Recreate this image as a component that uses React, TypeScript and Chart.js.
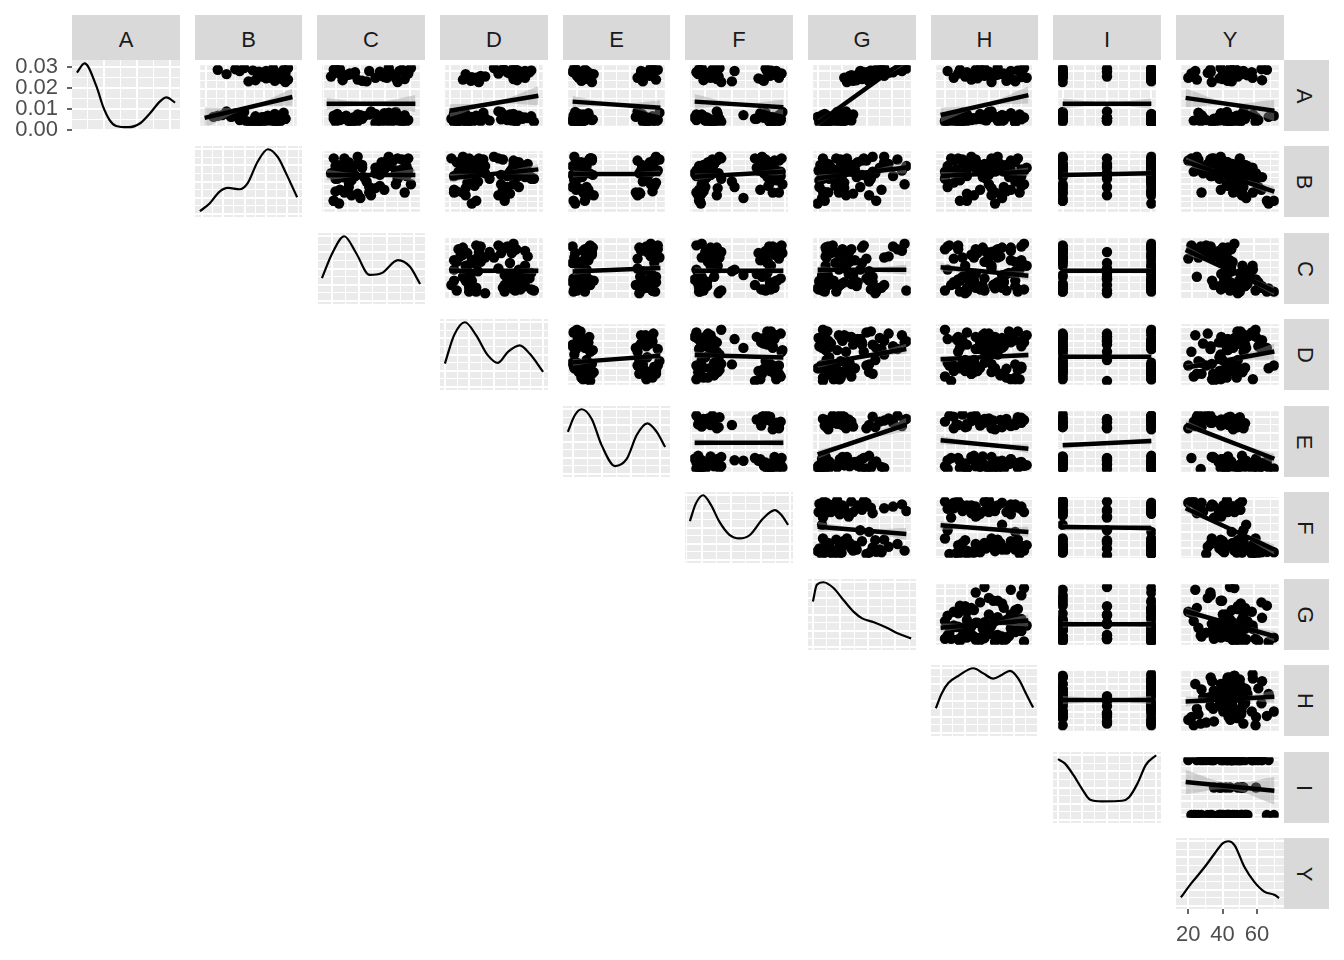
import { useEffect, useRef } from "react";
import { Chart, registerables } from "chart.js";

Chart.register(...registerables);

const FONT = "'Liberation Sans', Arial, Helvetica, sans-serif";
const VAR_NAMES = ["A", "B", "C", "D", "E", "F", "G", "H", "I", "Y"];

// ---- observations (one value per observation, 80 observations) ----
const obsA = [10, 14, 8, 18, 12, 6, 22, 15, 9, 20, 11,
  13, 7, 16, 24, 10, 14, 5, 19, 12, 9, 17,
  11, 15, 6, 21, 13, 8, 18, 10, 14, 5, 23, 12, 16,
  12, 9, 17, 6, 14, 20, 10, 13, 7, 19, 11, 15, 8,
  82, 90, 76, 88, 94, 79,
  85, 92, 73, 87, 81, 95,
  84, 78, 91, 86, 74, 89,
  83, 77, 93, 80, 88, 72, 86, 90, 82, 75, 95, 85, 79, 92];
const obsB = [0.72, 0.65, 0.48, 0.30, 0.75, 0.60, 0.90, 0.30, 0.68, 0.80, 0.42,
  0.78, 0.62, 0.32, 0.25, 0.70, 0.58, 0.82, 0.28, 0.92, 0.55, 0.72,
  0.75, 0.68, 0.52, 0.35, 0.60, 0.78, 0.20, 0.88, 0.70, 0.65, 0.45, 0.92, 0.58,
  0.80, 0.72, 0.15, 0.85, 0.65, 0.38, 0.40, 0.78, 0.55, 0.30, 0.62, 0.10, 0.82,
  0.85, 0.70, 0.95, 0.60, 0.78, 0.88,
  0.75, 0.90, 0.50, 0.82, 0.65, 0.45,
  0.85, 0.70, 0.55, 0.92, 0.80, 0.62,
  0.78, 0.88, 0.35, 0.72, 0.60, 0.92, 0.68, 0.40, 0.82, 0.58, 0.95, 0.25, 0.75, 0.15];
const obsC = [0.15, 0.78, 0.25, 0.88, 0.40, 0.28, 0.70, 0.20, 0.85, 0.12, 0.60,
  0.30, 0.85, 0.10, 0.50, 0.92, 0.18, 0.72, 0.35, 0.08, 0.80, 0.22,
  0.15, 0.82, 0.28, 0.65, 0.32, 0.90, 0.38, 0.75, 0.12, 0.55, 0.78, 0.20, 0.42,
  0.18, 0.85, 0.08, 0.62, 0.30, 0.55, 0.25, 0.70, 0.10, 0.48, 0.88, 0.14, 0.35,
  0.20, 0.82, 0.35, 0.90, 0.10, 0.68,
  0.15, 0.85, 0.45, 0.72, 0.05, 0.95,
  0.25, 0.78, 0.12, 0.92, 0.40, 0.60,
  0.22, 0.88, 0.15, 0.65, 0.32, 0.80, 0.26, 0.48, 0.62, 0.18, 0.70, 0.28, 0.55, 0.08];
const obsD = [0.22, 0.70, 0.20, 0.15, 0.82, 0.05, 0.38, 0.62, 0.10, 0.72, 0.28,
  0.18, 0.75, 0.08, 0.55, 0.30, 0.85, 0.12, 0.68, 0.22, 0.45, 0.78,
  0.30, 0.72, 0.25, 0.05, 0.88, 0.35, 0.62, 0.15, 0.80, 0.20, 0.58, 0.02, 0.92,
  0.26, 0.70, 0.30, 0.08, 0.82, 0.18, 0.65, 0.40, 0.95, 0.05, 0.58, 0.25, 0.75,
  0.75, 0.85, 0.15, 0.65, 0.74, 0.30,
  0.80, 0.60, 0.32, 0.88, 0.40, 0.72,
  0.78, 0.20, 0.92, 0.55, 0.24, 0.68,
  0.82, 0.72, 0.60, 0.25, 0.90, 0.33, 0.68, 0.78, 0.35, 0.76, 0.50, 0.18, 0.85, 0.62];
const obsE = [0.82, 0.88, 0.95, 0.76, 0.90, 0.84, 0.99, 0.72, 0.86, 0.79, 0.93,
  0.87, 0.80, 0.91, 0.74, 0.97, 0.83, 0.89, 0.77, 0.94, 0.85, 0.81,
  0.05, 0.12, 0.02, 0.18, 0.08, 0.00, 0.15, 0.22, 0.06, 0.10, 0.03, 0.20, 0.09,
  0.04, 0.14, 0.01, 0.10, 0.19, 0.07, 0.00, 0.16, 0.05, 0.12, 0.23, 0.03, 0.09,
  0.88, 0.78, 0.95, 0.84, 0.91, 0.74,
  0.86, 0.97, 0.80, 0.92, 0.76, 0.89,
  0.06, 0.15, 0.02, 0.20, 0.10, 0.00,
  0.08, 0.18, 0.04, 0.13, 0.01, 0.22, 0.09, 0.16, 0.05, 0.11, 0.02, 0.24, 0.07, 0.14];
const obsF = [0.90, 0.78, 0.85, 0.95, 0.70, 0.92, 0.80, 0.88, 0.97, 0.75, 0.83,
  0.05, 0.18, 0.10, 0.25, 0.02, 0.14, 0.22, 0.08, 0.28, 0.12, 0.04,
  0.88, 0.80, 0.93, 0.74, 0.97, 0.84, 0.55, 0.90, 0.78, 0.86, 0.99, 0.68, 0.82,
  0.10, 0.20, 0.05, 0.15, 0.00, 0.26, 0.12, 0.08, 0.30, 0.02, 0.18, 0.07, 0.22,
  0.85, 0.92, 0.76, 0.88, 0.80, 0.95,
  0.10, 0.20, 0.42, 0.15, 0.27, 0.08,
  0.90, 0.72, 0.86, 0.98, 0.78, 0.82,
  0.12, 0.25, 0.05, 0.17, 0.02, 0.30, 0.14, 0.45, 0.22, 0.10, 0.28, 0.04, 0.18, 0.06];
const obsG = [0.22, 0.15, 0.30, 0.10, 0.35, 0.18, 0.26, 0.12, 0.38, 0.08, 0.20,
  0.14, 0.28, 0.06, 0.32, 0.17, 0.24, 0.09, 0.40, 0.21, 0.13, 0.27,
  0.04, 0.10, 0.02, 0.25, 0.07, 0.12, 0.05, 0.28, 0.01, 0.09, 0.22, 0.06, 0.11,
  0.03, 0.13, 0.08, 0.26, 0.05, 0.30, 0.02, 0.10, 0.06, 0.24, 0.09, 0.00, 0.12,
  0.75, 0.95, 0.62, 0.85, 1.00, 0.55,
  0.70, 0.90, 0.58, 0.80, 0.65, 0.98,
  0.45, 0.35, 0.60, 0.52, 0.40, 0.50,
  0.38, 0.50, 0.72, 0.42, 0.55, 0.33, 0.62, 0.48, 0.36, 0.44, 0.75, 0.58, 0.30, 0.66];
const obsH = [0.30, 0.55, 0.15, 0.70, 0.40, 0.85, 0.25, 0.62, 0.05, 0.45, 0.92,
  0.35, 0.20, 0.75, 0.58, 0.10, 0.48, 0.68, 0.30, 0.88, 0.52, 0.18,
  0.40, 0.62, 0.22, 0.80, 0.50, 0.08, 0.70, 0.35, 0.95, 0.28, 0.55, 0.12, 0.78,
  0.45, 0.65, 0.30, 0.85, 0.20, 0.58, 0.72, 0.38, 0.05, 0.90, 0.48, 0.62, 0.25,
  0.60, 0.80, 0.35, 0.92, 0.50, 0.15,
  0.70, 0.40, 0.85, 0.55, 0.28, 0.95,
  0.65, 0.42, 0.88, 0.20, 0.75, 0.55,
  0.62, 0.80, 0.45, 0.92, 0.30, 0.58, 0.72, 0.08, 0.50, 0.85, 0.65, 0.38, 0.98, 0.22];
const obsI = [0, 1, 1, 0, 0.5, 1, 0, 1, 0, 1, 0,
  1, 0, 1, 0.5, 1, 0, 1, 0, 1, 0.5, 0,
  1, 0, 1, 0, 0.5, 1, 0, 1, 0, 1, 0, 0.5, 1,
  0, 1, 0, 1, 0.5, 0, 1, 0, 1, 1, 0, 1, 0.5,
  1, 0, 1, 0, 0.5, 1,
  0, 1, 1, 0, 0.5, 1,
  1, 0, 1, 0, 1, 0.5,
  0, 1, 1, 0, 1, 0, 1, 0.5, 0, 1, 0, 1, 1, 0];
const obsY = [40, 27, 44.5, 26, 38.7, 32.8, 24, 46.3, 21, 38.5, 42.8,
  40.6, 43.4, 48.6, 53, 29, 54, 33.9, 51.7, 50.6, 37.5, 48.7,
  45.9, 37.1, 50.1, 38.4, 52, 25.5, 54.7, 33.5, 47.2, 45.1, 42.3, 34, 51,
  54, 45.1, 72.5, 42.2, 61, 52.3, 62.5, 39.4, 60.7, 59, 43, 69.1, 51.4,
  39.2, 22, 23, 31.9, 44.3, 17.5,
  51.2, 31.7, 45.4, 30, 49.3, 47.1,
  42.9, 37.6, 49.1, 19.5, 42.8, 41.7,
  55.5, 39.7, 64.5, 44.1, 58.3, 32.6, 54, 52.9, 46, 64.9, 38.3, 52, 58.8, 68];

// ---- variable ranges / grid ----
const dataMin = [5, 0, 0, 0, 0, 0, 0, 0, 0, 15.8];
const dataMax = [95, 1, 1, 1, 1, 1, 1, 1, 1, 72.8];
const gridStart = [0, 0.02, 0.1, 0, 0.05, 0.12, 0, 0.05, 0, 20];
const gridStep = [30, 0.22, 0.28, 0.25, 0.3, 0.3, 0.28, 0.25, 0.25, 20];

// ---- axis ticks ----
const densATicks = [0, 0.01, 0.02, 0.03];
const densATickLabels = ["0.00", "0.01", "0.02", "0.03"];
const densARange = [-0.0007, 0.0331];
const yVarTicks = [20, 40, 60];
const yVarTickLabels = ["20", "40", "60"];

// ---- diagonal densities ----
const densAx = [5, 12, 23, 29, 35, 41, 52, 63, 72, 81, 87, 95];
const densAy = [0.0271, 0.0315, 0.0204, 0.0109, 0.0045, 0.0017, 0.0011, 0.0030, 0.0077, 0.0133, 0.0153, 0.0128];
const densBx = [0, 0.10, 0.20, 0.29, 0.41, 0.49, 0.595, 0.70, 0.80, 0.885, 1];
const densBy = [0.04, 0.16, 0.34, 0.40, 0.38, 0.47, 0.81, 1.0, 0.88, 0.63, 0.255];
const densCx = [0, 0.107, 0.227, 0.348, 0.485, 0.605, 0.775, 0.895, 1];
const densCy = [0.35, 0.74, 1.0, 0.74, 0.40, 0.425, 0.63, 0.53, 0.26];
const densDx = [0, 0.094, 0.204, 0.317, 0.436, 0.54, 0.642, 0.762, 0.865, 1];
const densDy = [0.36, 0.80, 1.0, 0.80, 0.49, 0.37, 0.54, 0.64, 0.51, 0.23];
const densEx = [0, 0.073, 0.142, 0.245, 0.348, 0.485, 0.605, 0.708, 0.817, 0.913, 1];
const densEy = [0.65, 0.91, 1.0, 0.85, 0.44, 0.12, 0.23, 0.60, 0.78, 0.65, 0.415];
const densFx = [0, 0.06, 0.135, 0.214, 0.30, 0.40, 0.505, 0.608, 0.745, 0.865, 0.934, 1];
const densFy = [0.60, 0.87, 1.0, 0.85, 0.59, 0.39, 0.33, 0.38, 0.64, 0.77, 0.69, 0.54];
const densGx = [0, 0.04, 0.107, 0.21, 0.313, 0.416, 0.502, 0.621, 0.759, 0.862, 1];
const densGy = [0.70, 0.96, 1.0, 0.91, 0.72, 0.54, 0.44, 0.38, 0.29, 0.21, 0.13];
const densHx = [0, 0.06, 0.128, 0.23, 0.385, 0.488, 0.59, 0.676, 0.762, 0.848, 0.934, 1];
const densHy = [0.38, 0.61, 0.77, 0.88, 1.0, 0.92, 0.84, 0.895, 0.96, 0.84, 0.585, 0.39];
const densIx = [0, 0.073, 0.159, 0.245, 0.33, 0.45, 0.656, 0.725, 0.81, 0.896, 1];
const densIy = [0.94, 0.87, 0.69, 0.48, 0.31, 0.285, 0.295, 0.35, 0.56, 0.85, 1.0];
const densYx = [15.8, 21.9, 29.6, 35.4, 40.2, 43.4, 46.9, 52.7, 58.4, 64.2, 70, 72.8];
const densYy = [0.13, 0.35, 0.6, 0.81, 0.97, 1.0, 0.94, 0.6, 0.37, 0.22, 0.17, 0.12];

// ---- fitted lines per row: [y at x-min, y at x-max, band half-width left, mid, right] ----
const fitRowA = [[13.5, 47.5, 16.7, 2.1, 13.9], [36.7, 36.7, 9.8, 2.1, 13.9], [25.2, 49.7, 10.5, 2.1, 15.3],
  [40, 29.8, 9.1, 2.1, 12.5], [40, 30.8, 12.1, 2.1, 12.1], [4.7, 109, 5.6, 1.4, 7],
  [18.2, 50.7, 11.8, 2.1, 13.9], [36.7, 36.7, 8.4, 2.1, 8.4], [46.1, 25.2, 15.3, 2.8, 17.4]];
const fitRowB = [[0.616, 0.616, 0.093, 0.023, 0.109], [0.559, 0.72, 0.078, 0.023, 0.093], [0.636, 0.636, 0.062, 0.023, 0.062],
  [0.585, 0.678, 0.062, 0.023, 0.062], [0.559, 0.755, 0.062, 0.023, 0.109], [0.6, 0.678, 0.078, 0.023, 0.078],
  [0.616, 0.652, 0.047, 0.023, 0.047], [0.86, 0.317, 0.078, 0.023, 0.093]];
const fitRowC = [[0.461, 0.461, 0.062, 0.023, 0.062], [0.446, 0.508, 0.062, 0.023, 0.062], [0.461, 0.461, 0.062, 0.023, 0.062],
  [0.477, 0.477, 0.062, 0.023, 0.093], [0.523, 0.368, 0.078, 0.023, 0.078], [0.461, 0.461, 0.047, 0.023, 0.047],
  [0.838, 0.089, 0.078, 0.023, 0.078]];
const fitRowD = [[0.357, 0.477, 0.062, 0.023, 0.062], [0.492, 0.446, 0.062, 0.023, 0.062], [0.322, 0.601, 0.062, 0.023, 0.093],
  [0.415, 0.492, 0.062, 0.023, 0.062], [0.461, 0.461, 0.047, 0.023, 0.047], [0.26, 0.554, 0.062, 0.03, 0.147]];
const fitRowE = [[0.477, 0.477, 0.062, 0.023, 0.062], [0.264, 0.807, 0.078, 0.023, 0.124], [0.523, 0.368, 0.078, 0.023, 0.078],
  [0.43, 0.508, 0.062, 0.023, 0.062], [0.807, 0.187, 0.078, 0.023, 0.093]];
const fitRowF = [[0.512, 0.384, 0.093, 0.03, 0.109], [0.539, 0.42, 0.078, 0.023, 0.093], [0.508, 0.492, 0.062, 0.023, 0.062],
  [0.849, 0.1, 0.078, 0.023, 0.093]];
const fitRowG = [[0.26, 0.389, 0.078, 0.023, 0.109], [0.322, 0.322, 0.062, 0.023, 0.062], [0.559, 0.105, 0.078, 0.023, 0.093]];
const fitRowH = [[0.508, 0.508, 0.078, 0.023, 0.078], [0.481, 0.57, 0.093, 0.023, 0.109]];
const fitRowI = [[0.599, 0.442, 0.22, 0.063, 0.25]];

const OBS = [obsA, obsB, obsC, obsD, obsE, obsF, obsG, obsH, obsI, obsY];
const DENS_X = [densAx, densBx, densCx, densDx, densEx, densFx, densGx, densHx, densIx, densYx];
const DENS_Y = [densAy, densBy, densCy, densDy, densEy, densFy, densGy, densHy, densIy, densYy];
const FITS = [fitRowA, fitRowB, fitRowC, fitRowD, fitRowE, fitRowF, fitRowG, fitRowH, fitRowI];

// ---- layout ----
const COL_X0 = 72, COL_STEP = 122.67, PANEL_W = 107.7;
const ROW_Y0 = 60, ROW_STEP = 86.44, PANEL_H = 71;
const colL = (c: number) => Math.round(COL_X0 + c * COL_STEP);
const colR = (c: number) => Math.round(COL_X0 + c * COL_STEP + PANEL_W);
const rowT = (r: number) => Math.round(ROW_Y0 + r * ROW_STEP);

type TickItem = { value: number; major: boolean };

function axisRange(v: number): [number, number] {
  const span = dataMax[v] - dataMin[v];
  return [dataMin[v] - 0.05 * span, dataMax[v] + 0.05 * span];
}

function gridTicks(lo: number, hi: number, start: number, step: number): TickItem[] {
  const out: TickItem[] = [];
  const k0 = Math.floor((lo - start) / step) - 1;
  const k1 = Math.ceil((hi - start) / step) + 1;
  for (let k = k0; k <= k1; k++) {
    const m = start + k * step;
    const n = m + step / 2;
    if (m >= lo && m <= hi) out.push({ value: m, major: true });
    if (n >= lo && n <= hi) out.push({ value: n, major: false });
  }
  return out;
}

const panelBg = {
  id: "panelBg",
  beforeDraw(chart: any) {
    const { ctx, chartArea: a } = chart;
    ctx.save();
    ctx.fillStyle = "#EBEBEB";
    ctx.fillRect(a.left, a.top, a.right - a.left, a.bottom - a.top);
    ctx.restore();
  },
};

function buildScale(lo: number, hi: number, ticks: TickItem[], labels: { values: number[]; texts: string[] } | null,
  fitSize: number | null, axis: "x" | "y") {
  const labelIndex = (v: number) => (labels ? labels.values.findIndex((t) => Math.abs(t - v) < 1e-9) : -1);
  return {
    type: "linear",
    position: axis === "x" ? "bottom" : "left",
    min: lo,
    max: hi,
    afterBuildTicks: (s: any) => {
      s.ticks = ticks.map((t) => ({ value: t.value, major: t.major }));
    },
    afterFit: (s: any) => {
      if (fitSize !== null) {
        if (axis === "x") s.height = fitSize;
        else s.width = fitSize;
      }
      s.paddingLeft = 0; s.paddingRight = 0; s.paddingTop = 0; s.paddingBottom = 0;
    },
    grid: {
      color: "#FFFFFF",
      lineWidth: (ctx: any) => (ctx.tick && ctx.tick.major ? 2 : 1),
      drawTicks: !!labels,
      tickLength: 5,
      tickWidth: 1.5,
      tickColor: (ctx: any) => (ctx.tick && labelIndex(ctx.tick.value) >= 0 ? "#333333" : "rgba(0,0,0,0)"),
    },
    border: { display: false },
    ticks: labels
      ? {
          display: true,
          autoSkip: false,
          maxRotation: 0,
          minRotation: 0,
          padding: axis === "x" ? 8 : 9,
          color: "#4D4D4D",
          font: { family: FONT, size: 22 },
          callback: (value: number) => {
            const i = labelIndex(value);
            return i >= 0 ? labels.texts[i] : "";
          },
        }
      : { display: false },
  };
}

function panelBox(r: number, c: number) {
  const L = colL(c), R = colR(c), T = rowT(r);
  if (r === 0 && c === 0) {
    return { left: 0, top: T - 10, w: R, h: PANEL_H + 24, pad: { top: 10, bottom: 14, left: 0, right: 0 }, xFit: null as number | null, yFit: L as number | null };
  }
  if (r === 9 && c === 9) {
    return { left: L - 16, top: T, w: R - L + 16, h: PANEL_H + 50, pad: { top: 0, bottom: 0, left: 16, right: 0 }, xFit: 50 as number | null, yFit: null as number | null };
  }
  return { left: L, top: T, w: R - L, h: PANEL_H, pad: { top: 0, bottom: 0, left: 0, right: 0 }, xFit: null as number | null, yFit: null as number | null };
}

function scatterDatasets(r: number, c: number) {
  const f = FITS[r][c - r - 1];
  const x0 = dataMin[c], x1 = dataMax[c], xm = (x0 + x1) / 2, ym = (f[0] + f[1]) / 2;
  const none = "rgba(0,0,0,0)";
  // index order = drawing order reversed: points first, then ribbon, then fitted line on top
  return [
    {
      type: "line",
      data: [{ x: x0, y: f[0] }, { x: x1, y: f[1] }],
      borderColor: "#000000", borderWidth: 4.5, pointRadius: 0, fill: false, tension: 0,
    },
    {
      type: "line",
      data: [{ x: x0, y: f[0] + f[2] }, { x: xm, y: ym + f[3] }, { x: x1, y: f[1] + f[4] }],
      borderWidth: 0, borderColor: none, pointRadius: 0, fill: "+1",
      backgroundColor: "rgba(153,153,153,0.4)", tension: 0.4,
    },
    {
      type: "line",
      data: [{ x: x0, y: f[0] - f[2] }, { x: xm, y: ym - f[3] }, { x: x1, y: f[1] - f[4] }],
      borderWidth: 0, borderColor: none, pointRadius: 0, fill: false, tension: 0.4,
    },
    {
      type: "scatter",
      data: OBS[c].map((x, i) => ({ x, y: OBS[r][i] })),
      pointRadius: 5.2, pointStyle: "circle",
      backgroundColor: "#000000", pointBackgroundColor: "#000000",
      borderWidth: 0, pointBorderWidth: 0, borderColor: none,
    },
  ];
}

function densityDataset(v: number) {
  return {
    type: "line",
    data: DENS_X[v].map((x, i) => ({ x, y: DENS_Y[v][i] })),
    borderColor: "#000000", borderWidth: 2.2, pointRadius: 0, fill: false,
    cubicInterpolationMode: "monotone",
  };
}

function buildConfig(r: number, c: number) {
  const box = panelBox(r, c);
  const [xlo, xhi] = axisRange(c);
  const xTicks = gridTicks(xlo, xhi, gridStart[c], gridStep[c]);
  let ylo: number, yhi: number, yTicks: TickItem[];
  if (r === c) {
    if (r === 0) {
      ylo = densARange[0]; yhi = densARange[1];
      yTicks = gridTicks(ylo, yhi, 0, 0.01);
    } else {
      ylo = -0.05; yhi = 1.05;
      yTicks = gridTicks(ylo, yhi, 0, 0.25);
    }
  } else {
    [ylo, yhi] = axisRange(r);
    yTicks = gridTicks(ylo, yhi, gridStart[r], gridStep[r]);
  }
  const xLabels = r === 9 && c === 9 ? { values: yVarTicks, texts: yVarTickLabels } : null;
  const yLabels = r === 0 && c === 0 ? { values: densATicks, texts: densATickLabels } : null;
  const datasets = r === c ? [densityDataset(r)] : scatterDatasets(r, c);
  return {
    type: "scatter",
    data: { datasets },
    options: {
      responsive: false,
      maintainAspectRatio: false,
      animation: false,
      devicePixelRatio: 1,
      events: [],
      layout: { padding: box.pad },
      plugins: { legend: { display: false }, tooltip: { enabled: false } },
      scales: {
        x: buildScale(xlo, xhi, xTicks, xLabels, box.xFit, "x"),
        y: buildScale(ylo, yhi, yTicks, yLabels, box.yFit, "y"),
      },
    },
    plugins: [panelBg],
  };
}

function Panel({ r, c }: { r: number; c: number }) {
  const ref = useRef<HTMLCanvasElement | null>(null);
  const g = panelBox(r, c);
  useEffect(() => {
    if (!ref.current) return;
    const chart = new Chart(ref.current, buildConfig(r, c) as any);
    return () => chart.destroy();
  }, [r, c]);
  return (
    <canvas
      ref={ref}
      width={g.w}
      height={g.h}
      style={{ position: "absolute", left: g.left, top: g.top, width: g.w, height: g.h }}
    />
  );
}

const stripText = { fontFamily: FONT, fontSize: "22px", color: "#1A1A1A", lineHeight: "1" };

export default function App() {
  const panels: any[] = [];
  for (let r = 0; r < 10; r++) {
    for (let c = r; c < 10; c++) panels.push(<Panel key={`${r}-${c}`} r={r} c={c} />);
  }
  return (
    <div style={{ position: "absolute", left: 0, top: 0, width: 1344, height: 960, background: "#FFFFFF", overflow: "hidden" }}>
      {VAR_NAMES.map((n, c) => (
        <div
          key={"top" + n}
          style={{
            position: "absolute", left: colL(c), top: 15, width: colR(c) - colL(c), height: 45,
            background: "#D9D9D9", display: "flex", alignItems: "center", justifyContent: "center", ...stripText,
          }}
        >
          <span style={{ position: "relative", top: 2 }}>{n}</span>
        </div>
      ))}
      {VAR_NAMES.map((n, r) => (
        <div
          key={"right" + n}
          style={{
            position: "absolute", left: colR(9), top: rowT(r), width: 45, height: PANEL_H,
            background: "#D9D9D9", display: "flex", alignItems: "center", justifyContent: "center", ...stripText,
          }}
        >
          <span style={{ display: "inline-block", transform: "translateX(-2px) rotate(90deg)" }}>{n}</span>
        </div>
      ))}
      {panels}
    </div>
  );
}
